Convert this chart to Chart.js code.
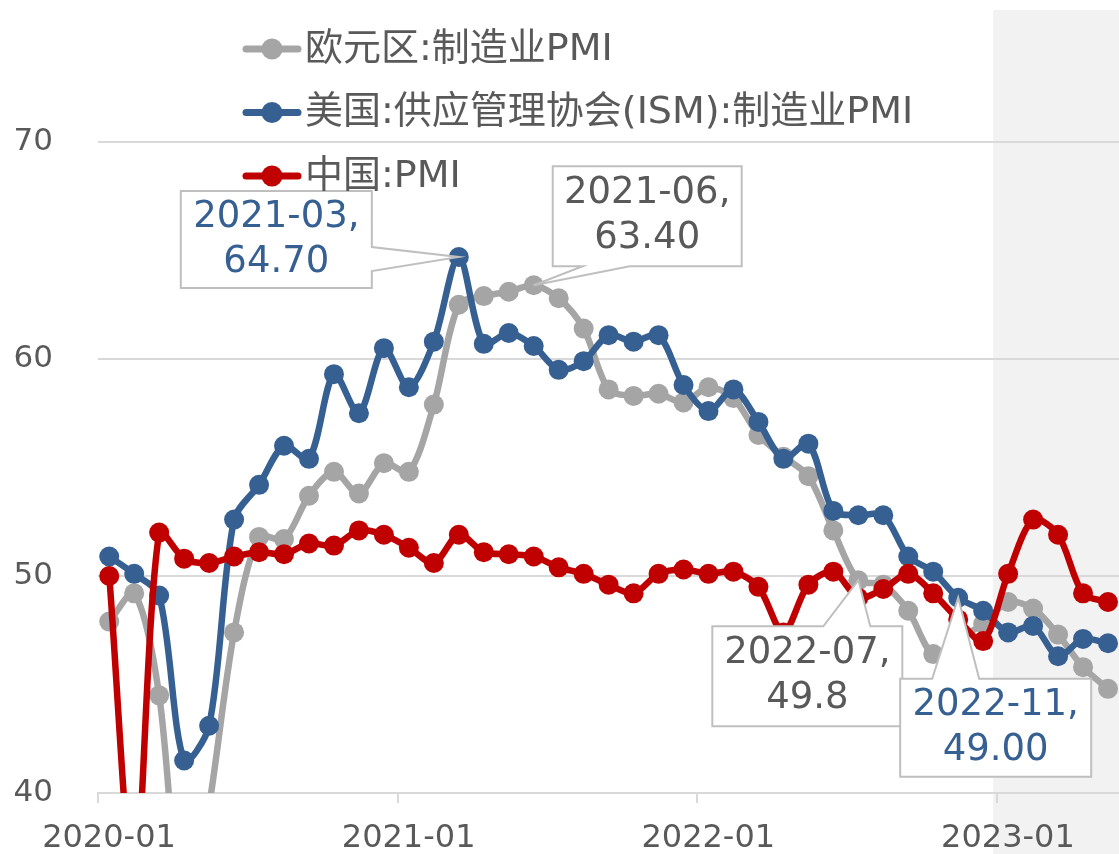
<!DOCTYPE html>
<html lang="zh">
<head>
<meta charset="UTF-8">
<title>PMI 对比</title>
<script src="https://cdn.jsdelivr.net/npm/chart.js"></script>
<style>
  html, body { margin: 0; padding: 0; background: #fff; overflow: hidden; }
  canvas { display: block; }
</style>
</head>
<body>
<canvas id="pmiChart" width="1119" height="854"></canvas>
<script>
// months shown on the x axis (one point per month)
const months = [
  '2020-01','2020-02','2020-03','2020-04','2020-05','2020-06','2020-07','2020-08','2020-09','2020-10','2020-11','2020-12',
  '2021-01','2021-02','2021-03','2021-04','2021-05','2021-06','2021-07','2021-08','2021-09','2021-10','2021-11','2021-12',
  '2022-01','2022-02','2022-03','2022-04','2022-05','2022-06','2022-07','2022-08','2022-09','2022-10','2022-11','2022-12',
  '2023-01','2023-02','2023-03','2023-04','2023-05'
];
const tickLabels = ['2020-01', '2021-01', '2022-01', '2023-01'];
const yTicks = [40, 50, 60, 70];

const euroPMI = [
  47.9, 49.2, 44.5, 33.4, 39.4, 47.4, 51.8, 51.7, 53.7, 54.8, 53.8, 55.2,
  54.8, 57.9, 62.5, 62.9, 63.1, 63.4, 62.8, 61.4, 58.6, 58.3, 58.4, 58.0,
  58.7, 58.2, 56.5, 55.5, 54.6, 52.1, 49.8, 49.6, 48.4, 46.4, 47.1, 47.8,
  48.8, 48.5, 47.3, 45.8, 44.8
];
const ismPMI = [
  50.9, 50.1, 49.1, 41.5, 43.1, 52.6, 54.2, 56.0, 55.4, 59.3, 57.5, 60.5,
  58.7, 60.8, 64.7, 60.7, 61.2, 60.6, 59.5, 59.9, 61.1, 60.8, 61.1, 58.8,
  57.6, 58.6, 57.1, 55.4, 56.1, 53.0, 52.8, 52.8, 50.9, 50.2, 49.0, 48.4,
  47.4, 47.7, 46.3, 47.1, 46.9
];
const chinaPMI = [
  50.0, 35.7, 52.0, 50.8, 50.6, 50.9, 51.1, 51.0, 51.5, 51.4, 52.1, 51.9,
  51.3, 50.6, 51.9, 51.1, 51.0, 50.9, 50.4, 50.1, 49.6, 49.2, 50.1, 50.3,
  50.1, 50.2, 49.5, 47.4, 49.6, 50.2, 49.0, 49.4, 50.1, 49.2, 48.0, 47.0,
  50.1, 52.6, 51.9, 49.2, 48.8
];

const seriesNames = ['欧元区:制造业PMI', '美国:供应管理协会(ISM):制造业PMI', '中国:PMI'];
const seriesColors = ['#a5a5a5', '#376092', '#c00000'];

const textGray = '#595959';
const gridGray = '#d9d9d9';
const FONT = '"DejaVu Sans", "Noto Sans CJK SC", sans-serif';

// callout boxes: offsets are relative to the pointed-at data point
const callouts = [
  { series: 1, index: 14, decimals: 2, box: [-278, -66, 191, 97], side: 'right', a: -10, b: 14 },
  { series: 0, index: 17, decimals: 2, box: [19, -119, 189, 100], side: 'bottom', a: 49, b: 96 },
  { series: 0, index: 30, decimals: 1, box: [-146, 46, 190, 100], side: 'top', a: -35, b: 12 },
  { series: 1, index: 34, decimals: 2, box: [-58, 81, 191, 98], side: 'top', a: -26, b: 21 }
];

// months are placed a bit after the tick that starts them
const pointShift = 0.45;
function toPoints(arr) {
  return arr.map((v, i) => ({ x: i + pointShift, y: v }));
}

// light gray band for 2023
const shadePlugin = {
  id: 'shade',
  beforeDraw(chart) {
    const ctx = chart.ctx;
    const x0 = chart.scales.x.getPixelForValue(35.85);
    ctx.save();
    ctx.fillStyle = '#f2f2f2';
    ctx.fillRect(x0, 10, chart.width - x0, chart.height - 10);
    ctx.restore();
  }
};

const calloutPlugin = {
  id: 'callouts',
  afterDatasetsDraw(chart) {
    const ctx = chart.ctx;
    ctx.save();
    callouts.forEach(c => {
      const pt = chart.getDatasetMeta(c.series).data[c.index];
      const px = pt.x, py = pt.y;
      const L = px + c.box[0], T = py + c.box[1];
      const R = L + c.box[2], B = T + c.box[3];
      ctx.beginPath();
      ctx.moveTo(L, T);
      if (c.side === 'top') { ctx.lineTo(px + c.a, T); ctx.lineTo(px, py); ctx.lineTo(px + c.b, T); }
      ctx.lineTo(R, T);
      if (c.side === 'right') { ctx.lineTo(R, py + c.a); ctx.lineTo(px, py); ctx.lineTo(R, py + c.b); }
      ctx.lineTo(R, B);
      if (c.side === 'bottom') { ctx.lineTo(px + c.b, B); ctx.lineTo(px, py); ctx.lineTo(px + c.a, B); }
      ctx.lineTo(L, B);
      ctx.closePath();
      ctx.fillStyle = '#fff';
      ctx.fill();
      ctx.strokeStyle = '#bfbfbf';
      ctx.lineWidth = 2;
      ctx.stroke();

      const values = [euroPMI, ismPMI, chinaPMI][c.series];
      const lines = [months[c.index] + ',', values[c.index].toFixed(c.decimals)];
      const cx = (L + R) / 2, cy = (T + B) / 2;
      ctx.fillStyle = c.series === 1 ? seriesColors[1] : textGray;
      ctx.font = '37px ' + FONT;
      ctx.textAlign = 'center';
      ctx.textBaseline = 'middle';
      ctx.fillText(lines[0], cx, cy - 22.5);
      ctx.fillText(lines[1], cx, cy + 22.5);
    });
    ctx.restore();
  }
};

// legend stacked in three rows at the top
const legendPlugin = {
  id: 'stackLegend',
  afterDraw(chart) {
    const ctx = chart.ctx;
    ctx.save();
    ctx.font = '38px ' + FONT;
    ctx.textAlign = 'left';
    ctx.textBaseline = 'middle';
    seriesNames.forEach((name, i) => {
      const y = 49 + i * 63.5;
      ctx.strokeStyle = seriesColors[i];
      ctx.lineWidth = 7;
      ctx.lineCap = 'round';
      ctx.beginPath();
      ctx.moveTo(246, y);
      ctx.lineTo(298, y);
      ctx.stroke();
      ctx.fillStyle = seriesColors[i];
      ctx.beginPath();
      ctx.arc(272, y, 10.5, 0, Math.PI * 2);
      ctx.fill();
      ctx.fillStyle = textGray;
      ctx.fillText(name, 305, y + 1);
    });
    ctx.restore();
  }
};

function lineSet(i, values, order) {
  return {
    label: seriesNames[i],
    data: toPoints(values),
    borderColor: seriesColors[i],
    backgroundColor: seriesColors[i],
    borderWidth: 6.5,
    pointRadius: 10,
    pointBorderWidth: 0,
    pointHoverRadius: 10,
    tension: 0.3,
    clip: 0,
    order: order
  };
}

function noPadding(s) {
  s.paddingLeft = 0; s.paddingRight = 0; s.paddingTop = 0; s.paddingBottom = 0;
}

new Chart(document.getElementById('pmiChart'), {
  type: 'line',
  data: {
    datasets: [
      lineSet(0, euroPMI, 2),
      lineSet(1, ismPMI, 1),
      lineSet(2, chinaPMI, 0)
    ]
  },
  options: {
    responsive: false,
    animation: false,
    layout: { autoPadding: false, padding: { top: 142, left: 14, right: 0, bottom: 0 } },
    plugins: {
      legend: { display: false },
      tooltip: { enabled: false }
    },
    scales: {
      x: {
        type: 'linear',
        bounds: 'data',
        min: 0,
        max: 40.89,
        afterBuildTicks: s => { s.ticks = tickLabels.map((t, i) => ({ value: i * 12 })); },
        afterFit: s => { s.height = 61; noPadding(s); },
        ticks: {
          callback: (v) => tickLabels[Math.round(v / 12)],
          labelOffset: 11,
          padding: 16,
          maxRotation: 0,
          color: textGray,
          font: { family: FONT, size: 32 }
        },
        grid: { drawOnChartArea: false, tickLength: 10, color: gridGray, lineWidth: 2 },
        border: { color: gridGray, width: 2 }
      },
      y: {
        min: 40,
        max: 70,
        afterBuildTicks: s => { s.ticks = yTicks.map(v => ({ value: v })); },
        afterFit: s => { s.width = 84; noPadding(s); },
        ticks: {
          padding: 45,
          color: textGray,
          font: { family: FONT, size: 31 }
        },
        grid: { drawTicks: false, color: gridGray, lineWidth: 2 },
        border: { display: false }
      }
    }
  },
  plugins: [shadePlugin, calloutPlugin, legendPlugin]
});
</script>
</body>
</html>
